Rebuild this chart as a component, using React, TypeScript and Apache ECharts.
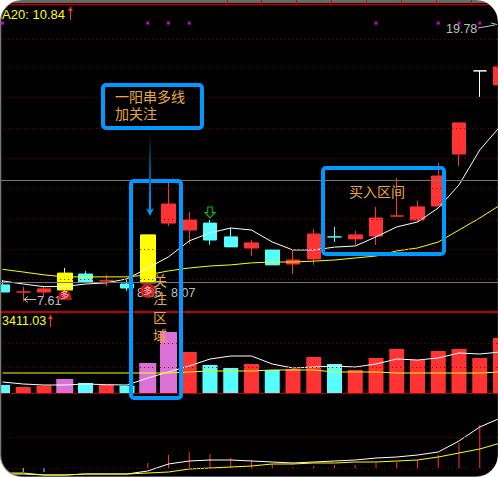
import React, { useEffect, useRef } from "react";
import * as echarts from "echarts";

const RED = "#ff3333";
const CYAN = "#55ffff";
const YELLOW = "#ffff00";
const ORCHID = "#db70d6";
const WHITE = "#ffffff";
const BLUE = "#0099ff";
const ORANGE = "#e9a83c";
const DOT = "#8c0000";
const CJK = '"Noto Sans CJK SC", sans-serif';
const NUM = '"Liberation Sans", Arial, sans-serif';

const categories = Array.from({ length: 25 }, (_, i) => `D${i + 1}`);

// [open, close, low, high]
const candleValues: number[][] = [
  [8.29, 7.97, 7.97, 8.51],
  [7.97, 7.97, 7.55, 8.2],
  [7.97, 8.11, 7.75, 8.2],
  [8.06, 8.82, 8.06, 9.05],
  [8.78, 8.42, 8.42, 8.91],
  [8.47, 8.47, 8.24, 8.74],
  [8.33, 8.15, 8.02, 8.51],
  [8.38, 10.54, 8.38, 10.54],
  [11.07, 11.93, 10.94, 12.88],
  [10.76, 11.21, 10.13, 11.57],
  [11.07, 10.31, 10.09, 11.21],
  [10.45, 10.0, 10.0, 10.85],
  [9.95, 10.18, 9.59, 10.31],
  [9.86, 9.19, 9.19, 9.91],
  [9.23, 9.41, 8.78, 9.86],
  [9.46, 10.58, 9.19, 10.8],
  [10.45, 10.45, 10.22, 10.9],
  [10.36, 10.54, 10.09, 10.72],
  [10.49, 11.3, 10.09, 11.8],
  [11.39, 11.39, 11.39, 13.1],
  [11.21, 11.8, 11.12, 12.07],
  [11.84, 13.19, 11.84, 13.78],
  [14.18, 15.58, 13.64, 15.58],
  [17.92, 17.92, 16.75, 17.92],
  [17.29, 18.1, 17.29, 18.32],
];
const candleColors = [
  CYAN, RED, RED, YELLOW, CYAN, RED, CYAN, YELLOW, RED, RED, CYAN, CYAN, RED,
  CYAN, RED, RED, CYAN, RED, RED, RED, RED, RED, RED, WHITE, RED,
];
const priceFast = [
  8.47, 8.33, 8.21, 8.22, 8.33, 8.38, 8.56, 9.05, 9.55, 10.27, 10.63, 10.85, 10.76,
  10.22, 9.86, 9.86, 9.99, 10.04, 10.45, 10.9, 11.12, 11.75, 12.79, 14.36, 15.44,
];
const priceSlow = [
  8.99, 8.87, 8.74, 8.65, 8.65, 8.65, 8.65, 8.74, 8.92, 9.05, 9.14, 9.19, 9.28,
  9.32, 9.32, 9.36, 9.41, 9.5, 9.59, 9.82, 9.95, 10.22, 10.76, 11.3, 11.89,
];
const priceGridLevels = [19.34, 18.08, 16.73, 15.35, 14.0, 12.65, 11.25, 9.9, 8.55];
const priceRefLevels = [13.01, 8.42];
const signalIndexes = [0, 7, 8, 9, 18, 21, 22, 23];
const signalLevel = 20.07;

const volumes = [
  80, 60, 73, 140, 100, 80, 73, 300, 610, 410, 280, 250, 290, 230, 240, 360, 290,
  230, 350, 440, 330, 420, 440, 350, 550,
];
const volumeColors = [
  CYAN, RED, RED, ORCHID, CYAN, RED, CYAN, ORCHID, ORCHID, RED, CYAN, CYAN, RED,
  CYAN, RED, RED, CYAN, RED, RED, RED, RED, RED, RED, RED, RED,
];
const volumeFast = [
  110, 90, 80, 80, 90, 83, 80, 150, 210, 270, 340, 370, 370, 290, 250, 260, 270,
  260, 290, 340, 330, 350, 400, 390, 410,
];
const volumeSlow = [
  200, 200, 200, 200, 200, 200, 200, 200, 200, 210, 220, 220, 220, 230, 230, 230,
  210, 210, 210, 200, 200, 200, 200, 200, 210,
];
const volumeGridLevels = [500, 260];

const spikes = [
  0, -4, -4, 0, 0, 0, 0, 5, 13, 16, 14, 10, 8, 4, 1, 2, 3, 3, 5, 6, 8, 13, 25, 43, 0,
];
const lowerFast = [
  -6, -6, -7, -7, -6, -6, -6, -3, 4, 7, 8, 8, 7, 6, 5, 6, 7, 8, 10, 11, 13, 16, 27, 41, 50,
];
const lowerSlow = [
  -5, -5, -7, -7, -6, -6, -6, -5, -4, -1, 0, 1, 2, 4, 4, 5, 5, 6, 6, 7, 8, 11, 15, 19, 25,
];
const lowerGridLevels = [31, 0];
const timeTicks = [227, 261, 296, 331, 366, 401, 436, 471];

const box1Lines = ["一阳串多线", "加关注"];
const box2Chars = ["关", "注", "区", "域"];
const box3Text = "买入区间";

const GRID_LEFT = -7.875;
const GRID_WIDTH = 518.75;

function dotted(levels: number[]) {
  return {
    silent: true,
    symbol: "none",
    label: { show: false },
    lineStyle: { color: DOT, type: [1, 3], width: 1 },
    data: levels.map((yAxis) => ({ yAxis })),
  };
}

function num(text: string, x: number, y: number, fill: string, size = 12.5, align = "left", z = 1) {
  return {
    type: "text",
    z,
    silent: true,
    style: { text, x, y, fill, align, verticalAlign: "middle", font: `${size}px ${NUM}` },
  };
}
function cjk(text: string, x: number, y: number, align = "left") {
  return {
    type: "text",
    z: 60,
    silent: true,
    style: { text, x, y, fill: ORANGE, align, verticalAlign: "middle", font: `14px ${CJK}` },
  };
}
function seg(x1: number, y1: number, x2: number, y2: number, stroke: string, lineWidth = 1, z = 1) {
  return { type: "line", z, silent: true, shape: { x1, y1, x2, y2 }, style: { stroke, lineWidth } };
}
function upArrow(x: number, y1: number, y2: number) {
  return [
    seg(x, y1, x, y2, RED, 1, 5),
    { type: "polygon", z: 5, silent: true, shape: { points: [[x - 2.5, y1 + 4], [x, y1], [x + 2.5, y1 + 4]] }, style: { fill: RED } },
  ];
}
function frame(x: number, y: number, width: number, height: number) {
  return {
    type: "rect",
    z: 50,
    silent: true,
    shape: { x, y, width, height, r: 3 },
    style: { fill: "transparent", stroke: BLUE, lineWidth: 4 },
  };
}

export default function App() {
  const ref = useRef<HTMLDivElement>(null);
  useEffect(() => {
    const chart = echarts.init(ref.current!, null, { renderer: "svg" });
    const candleItem = (i: number) => {
      const c = candleColors[i];
      return {
        value: [i, ...candleValues[i]],
        itemStyle: { color: c, color0: c, borderColor: c, borderColor0: c, borderColorDoji: c, borderWidth: 1 },
      };
    };
    const idx = categories.map((_, i) => i);
    const xBase = { type: "category", data: categories, boundaryGap: true, axisTick: { show: false }, axisLabel: { show: false }, splitLine: { show: false } };
    const yBase = { type: "value", show: false, splitLine: { show: false }, scale: false };
    const lineBase = { type: "line", symbol: "none", showSymbol: false, silent: true, z: 4 };
    const gridBase = { left: GRID_LEFT, width: GRID_WIDTH, outerBoundsMode: "none", containLabel: false };

    chart.setOption({
      animation: false,
      backgroundColor: "#000000",
      grid: [
        { ...gridBase, top: 14, height: 298 },
        { ...gridBase, top: 312, height: 81 },
        { ...gridBase, top: 393, height: 84 },
      ],
      xAxis: [
        { ...xBase, gridIndex: 0, axisLine: { show: true, lineStyle: { color: "#c00000", width: 2 } } },
        { ...xBase, gridIndex: 1, axisLine: { show: true, onZero: false, lineStyle: { color: "#aa0000", width: 1 } } },
        { ...xBase, gridIndex: 2, axisLine: { show: false } },
        { ...xBase, gridIndex: 1, show: false },
      ],
      yAxis: [
        { ...yBase, gridIndex: 0, min: 7.07, max: 20.48 },
        { ...yBase, gridIndex: 1, min: 0, max: 810 },
        { ...yBase, gridIndex: 2, min: -9, max: 75 },
      ],
      series: [
        {
          type: "candlestick",
          name: "K",
          xAxisIndex: 0,
          yAxisIndex: 0,
          barWidth: 14,
          z: 3,
          encode: { x: 0, y: [1, 2, 3, 4] },
          data: idx.filter((i) => candleColors[i] !== YELLOW).map(candleItem),
          markLine: dotted(priceGridLevels),
        },
        {
          type: "candlestick",
          name: "K2",
          xAxisIndex: 0,
          yAxisIndex: 0,
          barWidth: 16,
          z: 3,
          encode: { x: 0, y: [1, 2, 3, 4] },
          data: idx.filter((i) => candleColors[i] === YELLOW).map(candleItem),
          markLine: {
            silent: true,
            symbol: "none",
            label: { show: false },
            lineStyle: { color: "#777777", type: "solid", width: 1 },
            data: priceRefLevels.map((yAxis) => ({ yAxis })),
          },
        },
        { ...lineBase, name: "fast", xAxisIndex: 0, yAxisIndex: 0, data: priceFast, lineStyle: { color: WHITE, width: 1 } },
        { ...lineBase, name: "MA20", xAxisIndex: 0, yAxisIndex: 0, data: priceSlow, lineStyle: { color: YELLOW, width: 1 } },
        {
          type: "scatter",
          name: "signal",
          xAxisIndex: 0,
          yAxisIndex: 0,
          silent: true,
          symbol: "rect",
          symbolSize: 3,
          itemStyle: { color: "#ff00ff" },
          data: signalIndexes.map((i) => [i, signalLevel]),
        },
        {
          type: "scatter",
          name: "down",
          xAxisIndex: 0,
          yAxisIndex: 0,
          silent: true,
          symbol: "path://M3 0H8V6H11L5.5 12L0 6H3Z",
          symbolSize: [10, 11],
          z: 6,
          itemStyle: { color: "rgba(0,0,0,0)", borderColor: "#00ff00", borderWidth: 1 },
          data: [[10, 11.55]],
        },
        {
          type: "scatter",
          name: "duo1",
          xAxisIndex: 0,
          yAxisIndex: 0,
          silent: true,
          symbol: "circle",
          symbolSize: 15,
          z: 6,
          itemStyle: { color: "#ee1c1c" },
          label: { show: true, position: "inside", formatter: "多", color: "#ffffff", fontSize: 9, fontFamily: CJK },
          data: [[7, 8.04]],
        },
        {
          type: "scatter",
          name: "duo2",
          xAxisIndex: 0,
          yAxisIndex: 0,
          silent: true,
          symbol: "path://M0 10C0 -3 14 -3 14 10Z",
          symbolSize: [14, 10],
          z: 6,
          itemStyle: { color: "#ee1c1c" },
          label: { show: true, position: "inside", formatter: "多", color: "#ffffff", fontSize: 9, fontFamily: CJK },
          data: [[3, 7.84]],
        },
        {
          type: "bar",
          name: "vol",
          xAxisIndex: 1,
          yAxisIndex: 1,
          barWidth: 15,
          z: 3,
          data: idx.map((i) =>
            volumeColors[i] === ORCHID ? null : { value: volumes[i], itemStyle: { color: volumeColors[i] } }
          ),
          markLine: dotted(volumeGridLevels),
        },
        {
          type: "bar",
          name: "vol2",
          xAxisIndex: 3,
          yAxisIndex: 1,
          barWidth: 17,
          z: 3,
          data: idx.map((i) => (volumeColors[i] === ORCHID ? { value: volumes[i], itemStyle: { color: ORCHID } } : null)),
        },
        { ...lineBase, name: "volFast", xAxisIndex: 1, yAxisIndex: 1, data: volumeFast, lineStyle: { color: WHITE, width: 1 } },
        { ...lineBase, name: "volSlow", xAxisIndex: 1, yAxisIndex: 1, data: volumeSlow, lineStyle: { color: YELLOW, width: 1 } },
        {
          type: "bar",
          name: "spike",
          xAxisIndex: 2,
          yAxisIndex: 2,
          barWidth: 1,
          z: 3,
          data: spikes.map((v) => ({ value: v, itemStyle: { color: v < 0 ? CYAN : RED } })),
          markLine: dotted(lowerGridLevels),
        },
        { ...lineBase, name: "lowFast", xAxisIndex: 2, yAxisIndex: 2, data: lowerFast, lineStyle: { color: WHITE, width: 1 } },
        { ...lineBase, name: "lowSlow", xAxisIndex: 2, yAxisIndex: 2, data: lowerSlow, lineStyle: { color: YELLOW, width: 1 } },
      ],
      graphic: [
        { type: "rect", z: 1, silent: true, shape: { x: 0, y: 0, width: 498, height: 3 }, style: { fill: "#666666" } },
        seg(0, 4.5, 498, 4.5, "#c00000", 1.5),
        ...timeTicks.map((x) => seg(x + 0.5, 0, x + 0.5, 4, "#c00000", 1)),
        num("MA20: 10.84", 65, 14, YELLOW, 13, "right", 5),
        ...upArrow(70.5, 7, 20),
        num("3411.03", 2, 321, YELLOW, 12.5, "left", 5),
        ...upArrow(50.5, 315, 327),
        num("19.78", 446, 29, "#c0c0c0", 12.5),
        seg(478, 28, 495, 25, "#c0c0c0", 1),
        seg(491, 23, 497, 24.5, "#c0c0c0", 1),
        num("7.61", 37, 301, "#c0c0c0", 12.5),
        seg(24, 299.5, 36, 299.5, "#c0c0c0", 1),
        seg(24, 299.5, 28, 296.5, "#c0c0c0", 1),
        seg(24, 299.5, 28, 302.5, "#c0c0c0", 1),
        num("8.35", 137, 293, "#c0c0c0", 12.5),
        num("8.07", 171, 293, "#c0c0c0", 12.5),
        frame(103, 85, 99, 43),
        frame(131, 181, 50, 217),
        frame(323, 168, 121, 86),
        cjk(box1Lines[0], 115, 96),
        cjk(box1Lines[1], 115, 113),
        cjk(box3Text, 349, 191),
        ...box2Chars.map((c, i) => cjk(c, 160, 280 + i * 18.4, "center")),
        {
          type: "rect",
          z: 55,
          silent: true,
          shape: { x: 149, y: 134, width: 2, height: 76 },
          style: {
            fill: new echarts.graphic.LinearGradient(0, 0, 0, 1, [
              { offset: 0, color: "#000000" },
              { offset: 0.5, color: "#00609f" },
              { offset: 1, color: BLUE },
            ]),
          },
        },
        {
          type: "polygon",
          z: 55,
          silent: true,
          shape: { points: [[146, 208], [149, 210], [151, 210], [154, 208], [150, 216]] },
          style: { fill: BLUE },
        },
        {
          type: "rect",
          z: 200,
          silent: true,
          shape: { x: -8, y: -8, width: 514, height: 493, r: 30 },
          style: { fill: "transparent", stroke: "#ffffff", lineWidth: 16 },
        },
        {
          type: "rect",
          z: 199,
          silent: true,
          shape: { x: 0.5, y: -0.5, width: 498, height: 477.5, r: 22 },
          style: { fill: "transparent", stroke: "#777777", lineWidth: 1.5 },
        },
      ],
    });
    return () => chart.dispose();
  }, []);
  return <div ref={ref} style={{ position: "fixed", left: 0, top: 0, width: 498, height: 477 }} />;
}
